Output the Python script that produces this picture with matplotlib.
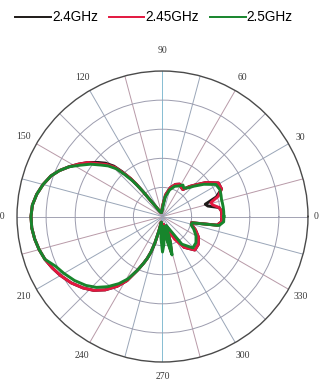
import matplotlib
matplotlib.use("Agg")
import matplotlib.pyplot as plt
from matplotlib.lines import Line2D
import numpy as np

# radiation pattern, gain in dB vs angle in degrees
angles = [0, 5, 9, 13, 16, 20, 25, 31, 38, 44, 48, 53, 57, 62, 68, 75, 82, 88,
          95, 105, 115, 120, 124,
          127, 128, 129, 130, 132, 134, 137, 140, 144, 148, 152, 156, 160, 165,
          170, 175, 180, 185, 190, 195, 200, 205, 210, 216, 222, 227, 232, 237,
          241, 245, 248, 250, 252, 254, 256, 258,
          262, 266, 270, 273, 277, 281, 284, 287, 292, 298, 305, 314, 322, 330,
          338, 344, 348, 351, 355, 360]

gain_24 = [-29.6, -29.6, -30.3, -34.0, -34.7, -30.3, -27.6, -27.6, -31.0, -34.4,
           -36.1, -38.4, -38.1, -37.4, -38.1, -39.8, -42.5, -45.9, -48.0, -48.6,
           -48.3, -47.6, -45.9,
           -42.5, -39.1, -35.7, -33.0, -29.3, -25.9, -23.1, -21.1, -18.4, -16.0,
           -13.6, -11.2, -9.2, -7.5, -6.1, -5.1, -4.8, -4.9, -5.4, -6.1, -7.0,
           -8.2, -9.5, -11.2, -13.3, -15.3, -18.0, -21.4, -24.8, -29.6, -32.7,
           -34.7, -37.1, -40.5, -44.9, -48.0,
           -47.3, -45.2, -40.5, -41.8, -47.3, -42.5, -37.4, -41.2, -46.6, -43.9,
           -37.1, -34.0, -34.4, -35.7, -37.8, -39.5, -39.8, -31.0, -29.6, -29.6]

gain_245 = [-29.6, -29.6, -30.3, -32.3, -32.7, -29.6, -27.6, -27.6, -31.0, -34.4,
            -36.1, -38.4, -38.1, -37.4, -38.1, -39.8, -42.5, -45.9, -48.0, -48.6,
            -48.3, -47.6, -45.9,
            -42.5, -39.1, -35.7, -33.0, -29.9, -26.5, -23.8, -21.8, -18.4, -16.0,
            -13.6, -11.2, -9.2, -7.5, -6.1, -5.1, -4.8, -4.9, -5.4, -6.1, -7.0,
            -8.2, -9.5, -11.2, -13.3, -15.3, -18.0, -21.4, -24.8, -29.6, -32.7,
            -34.7, -37.1, -40.5, -44.9, -48.0,
            -47.3, -45.2, -40.5, -41.8, -47.3, -42.5, -37.4, -41.2, -45.2, -41.2,
            -37.1, -34.0, -34.4, -35.7, -37.8, -39.5, -39.8, -31.0, -29.6, -29.6]

gain_25 = [-28.9, -28.9, -28.9, -28.9, -28.9, -28.6, -28.2, -28.6, -32.0, -35.0,
           -36.7, -37.8, -37.1, -38.1, -38.8, -40.5, -43.2, -46.6, -48.0, -48.6,
           -48.3, -47.6, -45.9,
           -42.5, -39.1, -36.4, -34.0, -30.6, -27.2, -24.5, -22.5, -19.4, -16.7,
           -13.6, -11.2, -9.2, -7.5, -6.1, -5.1, -4.8, -4.9, -5.4, -6.1, -7.0,
           -9.5, -10.9, -12.6, -14.6, -16.7, -19.4, -22.5, -25.5, -29.6, -32.7,
           -34.7, -37.1, -40.5, -44.9, -48.0,
           -47.3, -42.5, -37.8, -40.5, -46.6, -41.2, -36.4, -40.5, -46.6, -45.2,
           -38.4, -35.0, -35.4, -36.7, -38.4, -39.8, -39.5, -30.3, -28.9, -28.9]

series = [("2.4GHz", gain_24, "#1e1a18"),
          ("2.45GHz", gain_245, "#e3173f"),
          ("2.5GHz", gain_25, "#17852c")]

# angle labels and how far outside the rim (dB units) each one sits
label_deg = [0, 30, 60, 90, 120, 150, 180, 210, 240, 270, 300, 330]
label_off = [2.8, 4.6, 5.2, 7.0, 5.2, 5.0, 6.6, 5.2, 5.2, 5.0, 5.2, 4.8]

fig = plt.figure(figsize=(3.22, 3.89), dpi=100)
ax = fig.add_axes([0.0528, 0.0694, 0.9037, 0.748], projection="polar")
ax.set_theta_zero_location("E")
ax.set_rlim(-50, 0)

theta = np.deg2rad(angles)
for name, g, c in series:
    ax.plot(theta, g, color=c, lw=2.1, solid_joinstyle="round")

# grid: rings every 10 dB, spokes every 15 deg
ax.set_rgrids([-40, -30, -20, -10], labels=[])
tick_deg = list(range(0, 360, 15))
ax.set_thetagrids(tick_deg, [""] * len(tick_deg))
ax.tick_params(axis="x", direction="in", length=5, width=0.8, colors="#444444")
for ln in ax.yaxis.get_gridlines():
    ln.set_color("#9c9cae")
    ln.set_linewidth(0.7)
    ln.set_linestyle("-")
spoke_cols = ["#a3a3b3", "#b89aa8", "#9aa6b8"]
for i, ln in enumerate(ax.xaxis.get_gridlines()):
    d = tick_deg[i]
    ln.set_color("#86bcd2" if d in (90, 270) else spoke_cols[i % 3])
    ln.set_linewidth(0.7)
    ln.set_linestyle("-")
ax.spines["polar"].set_color("#4a4a4a")
ax.spines["polar"].set_linewidth(1.0)

for d, off in zip(label_deg, label_off):
    ax.text(np.deg2rad(d), off, str(d), ha="center", va="center",
            fontfamily="Liberation Serif", fontsize=7, color="#3a3a3a",
            clip_on=False)

handles = [Line2D([], [], color=c, lw=1.4) for _, _, c in series]
fig.legend(handles, [s[0] for s in series], loc="upper left",
           bbox_to_anchor=(0.01, 1.005), ncol=3, frameon=False,
           handlelength=2.6, handletextpad=0.1, columnspacing=0.8,
           prop={"family": "Liberation Sans", "size": 9.8})

fig.savefig("out.png", dpi=100)
